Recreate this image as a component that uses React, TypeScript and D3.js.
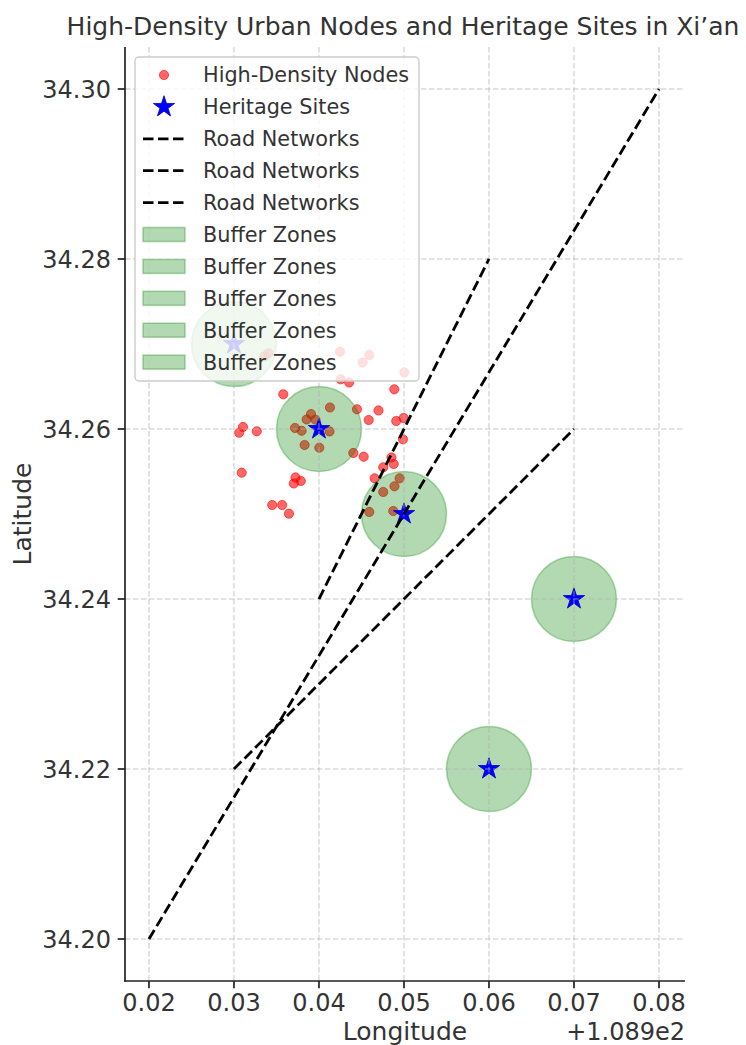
import * as d3 from "d3";

// High-density urban nodes
const nodeLon = [
  108.93404, 108.93356, 108.94247, 108.94592, 108.94514, 108.95004, 108.94255, 108.94355,
  108.9358, 108.94886, 108.94129, 108.93906, 108.93855, 108.93959, 108.94447, 108.947,
  108.94585, 108.94909, 108.94996, 108.93106, 108.93061, 108.93268, 108.93718, 108.93796,
  108.94124, 108.93831, 108.94004, 108.94988, 108.94404, 108.94526, 108.94853, 108.94879,
  108.94756, 108.93091, 108.93724, 108.93786, 108.93704, 108.94655, 108.94949, 108.94888,
  108.94756, 108.9345, 108.93567, 108.93647, 108.94592, 108.94874,
];
const nodeLat = [
  34.26891, 34.26851, 34.26909, 34.26871, 34.26782, 34.26665, 34.26585, 34.26547,
  34.26408, 34.26467, 34.26253, 34.26176, 34.26112, 34.26109, 34.26232, 34.26218,
  34.26106, 34.26094, 34.26129, 34.26024, 34.25956, 34.25973, 34.26012, 34.25979,
  34.25971, 34.25812, 34.2578, 34.25879, 34.25718, 34.25674, 34.25665, 34.25588,
  34.25549, 34.25486, 34.2543, 34.25388, 34.25359, 34.2542, 34.2542, 34.25326,
  34.25259, 34.25106, 34.25106, 34.25004, 34.25024, 34.25035,
];

// Heritage sites
const siteLon = [108.93, 108.94, 108.95, 108.96, 108.97];
const siteLat = [34.27, 34.26, 34.25, 34.22, 34.24];
const bufferRadius = 0.005;

// Road networks: start / end points
const roadLon = [
  [108.92, 108.98],
  [108.94, 108.96],
  [108.93, 108.97],
];
const roadLat = [
  [34.2, 34.3],
  [34.24, 34.28],
  [34.22, 34.26],
];

const xTicks = [108.92, 108.93, 108.94, 108.95, 108.96, 108.97, 108.98];
const xTickLabels = ["0.02", "0.03", "0.04", "0.05", "0.06", "0.07", "0.08"];
const yTicks = [34.2, 34.22, 34.24, 34.26, 34.28, 34.3];
const yTickLabels = ["34.20", "34.22", "34.24", "34.26", "34.28", "34.30"];

const legendLabels = [
  "High-Density Nodes",
  "Heritage Sites",
  "Road Networks",
  "Road Networks",
  "Road Networks",
  "Buffer Zones",
  "Buffer Zones",
  "Buffer Zones",
  "Buffer Zones",
  "Buffer Zones",
];

const W = 746;
const H = 1045;
const left = 125;
const right = 685;
const top = 47;
const bottom = 981;
const font = "DejaVu Sans, sans-serif";
const textColor = "#333";
const roadDash = "10.5,4.5";

export default function App() {
  const x = d3.scaleLinear().domain([108.91718, 108.98306]).range([left, right]);
  const y = d3.scaleLinear().domain([34.19506, 34.30494]).range([bottom, top]);
  const pxPerDeg = x(108.93) - x(108.92);
  const star = d3.symbol().type(d3.symbolStar).size(140)();

  return (
    <svg
      width={W}
      height={H}
      style={{ position: "absolute", left: 0, top: 0, background: "white" }}
      fontFamily={font}
    >
      <text x={(left + right) / 2 - 2} y={35} textAnchor="middle" fontSize={25} fill={textColor}>
        High-Density Urban Nodes and Heritage Sites in Xi’an
      </text>

      {/* nodes */}
      <g>
        {nodeLon.map((lon, i) => (
          <circle
            key={i}
            cx={x(lon)}
            cy={y(nodeLat[i])}
            r={4.6}
            fill="red"
            fillOpacity={0.6}
            stroke="red"
            strokeOpacity={0.6}
            strokeWidth={1}
          />
        ))}
      </g>

      {/* buffer zones */}
      <g>
        {siteLon.map((lon, i) => (
          <circle
            key={i}
            cx={x(lon)}
            cy={y(siteLat[i])}
            r={bufferRadius * pxPerDeg * 100}
            fill="green"
            fillOpacity={0.3}
            stroke="green"
            strokeOpacity={0.3}
            strokeWidth={1.6}
          />
        ))}
      </g>

      {/* heritage sites */}
      <g>
        {siteLon.map((lon, i) => (
          <path
            key={i}
            d={star}
            transform={`translate(${x(lon)},${y(siteLat[i])})`}
            fill="blue"
            stroke="#0000bb"
            strokeWidth={0.8}
          />
        ))}
      </g>

      {/* grid */}
      <g stroke="#b0b0b0" strokeOpacity={0.7} strokeWidth={1} strokeDasharray="5.5,2.5">
        {xTicks.map((t, i) => (
          <line key={"gx" + i} x1={x(t)} x2={x(t)} y1={top} y2={bottom} />
        ))}
        {yTicks.map((t, i) => (
          <line key={"gy" + i} x1={left} x2={right} y1={y(t)} y2={y(t)} />
        ))}
      </g>

      {/* roads */}
      <g fill="none" stroke="black" strokeWidth={2.8} strokeDasharray={roadDash}>
        {roadLon.map((lons, i) => (
          <path
            key={i}
            d={d3.line()(lons.map((lon, j) => [x(lon), y(roadLat[i][j])]) as [number, number][]) || ""}
          />
        ))}
      </g>

      {/* axes */}
      <g stroke="#222" strokeWidth={1.7}>
        <line x1={left} x2={left} y1={top} y2={bottom + 0.85} />
        <line x1={left - 0.85} x2={right} y1={bottom} y2={bottom} />
        {xTicks.map((t, i) => (
          <line key={"tx" + i} x1={x(t)} x2={x(t)} y1={bottom} y2={bottom + 7.3} />
        ))}
        {yTicks.map((t, i) => (
          <line key={"ty" + i} x1={left - 7.3} x2={left} y1={y(t)} y2={y(t)} />
        ))}
      </g>
      <g fontSize={24} fill={textColor}>
        {xTicks.map((t, i) => (
          <text key={"lx" + i} x={x(t)} y={1011} textAnchor="middle">
            {xTickLabels[i]}
          </text>
        ))}
        {yTicks.map((t, i) => (
          <text key={"ly" + i} x={111} y={y(t)} dy="0.36em" textAnchor="end">
            {yTickLabels[i]}
          </text>
        ))}
        <text x={right} y={1040} textAnchor="end">
          +1.089e2
        </text>
      </g>
      <text x={(left + right) / 2} y={1040} textAnchor="middle" fontSize={25} fill={textColor}>
        Longitude
      </text>
      <text
        transform={`translate(31,${(top + bottom) / 2}) rotate(-90)`}
        textAnchor="middle"
        fontSize={25}
        fill={textColor}
      >
        Latitude
      </text>

      {/* legend */}
      <g>
        <rect
          x={135}
          y={57}
          width={284}
          height={324}
          rx={4}
          fill="white"
          fillOpacity={0.8}
          stroke="#cccccc"
          strokeWidth={1.4}
        />
        {legendLabels.map((label, i) => {
          const cy = 75 + i * 31.9;
          let handle;
          if (i === 0) {
            handle = (
              <circle cx={164} cy={cy} r={4.6} fill="red" fillOpacity={0.6} stroke="red" strokeOpacity={0.6} />
            );
          } else if (i === 1) {
            handle = (
              <path d={star} transform={`translate(164,${cy})`} fill="blue" stroke="#0000bb" strokeWidth={0.8} />
            );
          } else if (i < 5) {
            handle = (
              <line x1={143} x2={185} y1={cy} y2={cy} stroke="black" strokeWidth={2.8} strokeDasharray={roadDash} />
            );
          } else {
            handle = (
              <rect
                x={143}
                y={cy - 7}
                width={42}
                height={14}
                fill="green"
                fillOpacity={0.3}
                stroke="green"
                strokeOpacity={0.3}
                strokeWidth={1.6}
              />
            );
          }
          return (
            <g key={i}>
              {handle}
              <text x={203} y={cy} dy="0.36em" fontSize={20.8} fill={textColor}>
                {label}
              </text>
            </g>
          );
        })}
      </g>
    </svg>
  );
}
